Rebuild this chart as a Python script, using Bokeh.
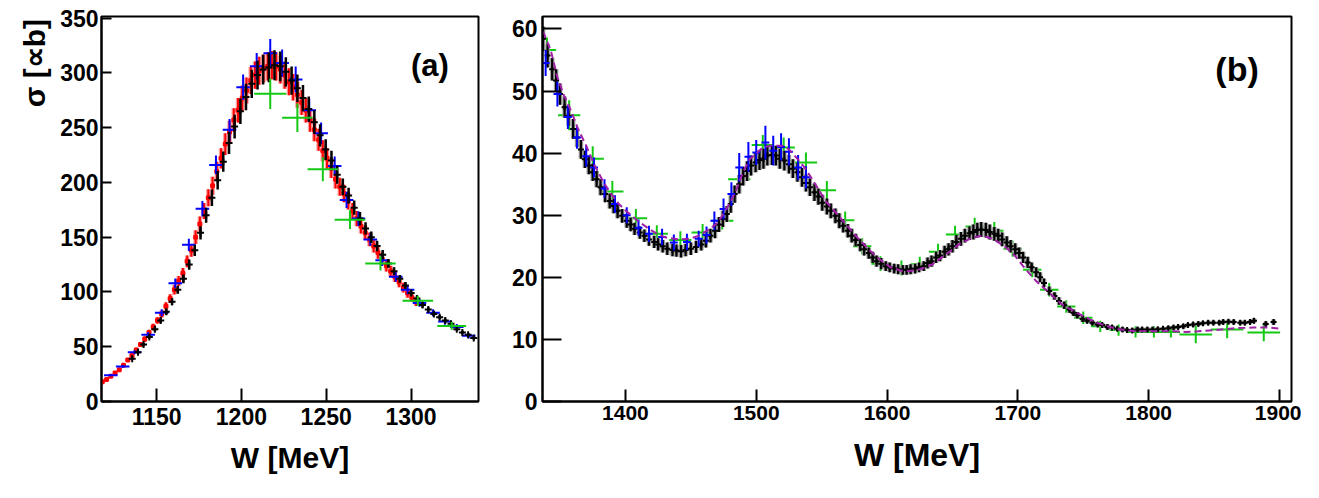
import numpy as np
from bokeh.plotting import figure
from bokeh.layouts import row
from bokeh.models import FixedTicker, Label, Range1d
from bokeh.embed import file_html
from bokeh.resources import INLINE

# ---------------- panel (a) data ----------------
a_xticks = [1150, 1200, 1250, 1300]
a_yticks = [0, 50, 100, 150, 200, 250, 300, 350]
a_ytitle = "\u03c3 [\u221db]"

a_red_w = [1118, 1120.5, 1123, 1125.5, 1128, 1130.5, 1133, 1135.5, 1138, 1140.5,
           1143, 1145.5, 1148, 1150.5, 1153, 1155.5, 1158, 1160.5, 1163, 1165.5,
           1168, 1170.5, 1173, 1175.5, 1178, 1180.5, 1183, 1185.5, 1188, 1190.5,
           1193, 1195.5, 1198, 1200.5, 1203, 1205.5, 1208, 1210.5, 1213, 1215.5,
           1218, 1220.5, 1223, 1225.5, 1228, 1230.5, 1233, 1235.5, 1238, 1240.5,
           1243, 1245.5, 1248, 1250.5, 1253, 1255.5, 1258, 1260.5, 1263, 1265.5,
           1268, 1270.5, 1273, 1275.5, 1278, 1280.5, 1283, 1285.5, 1288, 1290.5,
           1293, 1295.5, 1298, 1300.5, 1303]
a_red_v = [18, 20, 23, 26, 29, 33, 38, 42, 47, 52,
           57, 63, 68, 74, 80, 87, 94, 102, 110, 117,
           128, 138, 150, 162, 174, 186, 197, 210, 222, 235,
           246, 257, 266, 277, 284, 293, 298, 302, 304, 306,
           307, 306, 303, 298, 292, 287, 280, 273, 266, 257,
           248, 239, 229, 222, 213, 203, 196, 190, 183, 174,
           167, 160, 154, 148, 142, 136, 130, 124, 119, 114,
           109, 104, 99, 95, 91]
a_red_e = [0.8, 0.8, 1.0, 1.1, 1.2, 1.4, 1.6, 1.8, 2.0, 2.2,
           2.4, 2.6, 2.9, 3.1, 3.4, 3.7, 4.0, 4.3, 4.6, 4.9,
           5.4, 5.8, 6.3, 6.8, 7.3, 7.8, 8.3, 8.8, 9.3, 9.9,
           10.3, 10.8, 11.2, 11.6, 11.9, 12.3, 12.5, 12.7, 12.8, 12.9,
           12.9, 12.9, 12.7, 12.5, 12.3, 12.1, 11.8, 11.5, 11.2, 10.8,
           10.4, 10.0, 9.6, 9.3, 8.9, 8.5, 8.2, 8.0, 7.7, 7.3,
           7.0, 6.7, 6.5, 6.2, 6.0, 5.7, 5.5, 5.2, 5.0, 4.8,
           4.6, 4.4, 4.2, 4.0, 3.8]

a_blk_w = [1135.6, 1139.0, 1142.3, 1145.7, 1149.0, 1152.4, 1155.7, 1159.1, 1162.5, 1165.8,
           1169.2, 1172.5, 1175.9, 1179.2, 1182.6, 1186.0, 1189.3, 1192.7, 1196.0, 1199.4,
           1202.7, 1206.1, 1209.5, 1212.8, 1216.2, 1219.5, 1222.9, 1226.2, 1229.6, 1233.0,
           1236.3, 1239.7, 1243.0, 1246.4, 1249.7, 1253.1, 1256.5, 1259.8, 1263.2, 1266.5,
           1269.9, 1273.2, 1276.6, 1280.0, 1283.3, 1286.7, 1290.0, 1293.4, 1296.7, 1300.1,
           1303.5, 1306.8, 1310.2, 1313.5, 1316.9, 1320.2, 1323.6, 1327.0, 1330.3, 1333.7,
           1337.0]
a_blk_v = [39, 45, 52, 59, 66, 74, 82, 91, 102, 112,
           125, 138, 154, 170, 186, 202, 219, 236, 251, 265,
           278, 290, 298, 303, 305, 307, 306, 301, 293, 286,
           277, 267, 255, 243, 230, 220, 207, 196, 188, 177,
           167, 158, 150, 142, 134, 126, 119, 112, 106, 99,
           94, 88, 84, 80, 77, 74, 71, 66, 63, 61,
           58]
a_blk_e = [1.2, 1.4, 1.6, 1.8, 2.1, 2.4, 2.7, 3.1, 3.6, 4.0,
           4.6, 5.2, 6.0, 6.8, 7.6, 8.4, 9.3, 10.1, 10.9, 11.6,
           12.2, 12.8, 13.2, 13.5, 13.6, 13.7, 13.6, 13.3, 12.9, 12.5,
           12.0, 11.5, 10.8, 10.2, 9.5, 8.9, 8.2, 7.6, 7.2, 6.6,
           6.1, 5.6, 5.2, 4.8, 4.4, 4.0, 3.6, 3.3, 3.0, 2.7,
           2.5, 2.3, 2.1, 2.0, 1.9, 1.8, 1.7, 1.6, 1.5, 1.4,
           1.3]

a_blu_w = [1123, 1130, 1137, 1145, 1153, 1161, 1169, 1177, 1185, 1193,
           1201, 1209, 1217, 1224, 1232, 1240, 1247, 1255, 1262, 1269,
           1276, 1283, 1291, 1298, 1305, 1313, 1320, 1327, 1334]
a_blu_v = [24, 32, 45, 61, 81, 108, 143, 176, 216, 248,
           287, 306, 318, 309, 294, 266, 245, 215, 184, 167,
           148, 129, 114, 102, 90, 81, 73, 68, 60]
a_blu_e = [1.0, 1.3, 1.8, 2.4, 3.2, 4.3, 5.7, 7.0, 8.6, 9.9,
           11.5, 12.2, 13.0, 12.4, 11.8, 10.6, 9.8, 8.6, 7.4, 6.7,
           5.9, 5.2, 4.6, 4.1, 3.6, 3.2, 2.9, 2.7, 2.4]
a_blu_hw = 4.0

a_grn_w = [1217, 1233, 1248, 1264, 1282, 1304, 1324]
a_grn_v = [281, 259, 212, 166, 126, 92, 69]
a_grn_e = [14, 13, 11, 8.5, 6.5, 4.5, 3.5]
a_grn_hw = [9.5, 9, 9, 9, 9, 9, 8.5]

# ---------------- panel (b) data ----------------
b_xticks = [1400, 1500, 1600, 1700, 1800, 1900]
b_yticks = [0, 10, 20, 30, 40, 50, 60]

b_blk_w = [1337, 1340.5, 1344, 1347, 1350, 1353.5, 1356.5, 1360, 1363, 1366,
           1369, 1372, 1375, 1378, 1381, 1384.5, 1388, 1391, 1394, 1397.5,
           1401, 1404, 1407, 1411, 1414.5, 1418, 1422, 1425, 1428.5, 1432,
           1436, 1439, 1442.5, 1446, 1450, 1454, 1458, 1461.5, 1465, 1468.5,
           1471.5, 1474.5, 1477.5, 1480.5, 1483.5, 1487, 1490, 1493, 1496, 1499.5,
           1502.5, 1505.5, 1508.5, 1512, 1515, 1518, 1521.5, 1525, 1528, 1531.5,
           1535, 1538, 1541, 1544.5, 1547.5, 1550.5, 1554, 1557, 1560.5, 1563.5,
           1566.5, 1570, 1573, 1576, 1579.5, 1582.5, 1586, 1589, 1592, 1595.5,
           1599, 1602, 1605.5, 1608.5, 1612, 1615, 1618, 1621.5, 1624.5, 1628,
           1631, 1634, 1637.5, 1640.5, 1644, 1647, 1650, 1653, 1656.5, 1659.5,
           1663, 1666, 1669, 1672, 1675.5, 1678.5, 1682, 1685, 1688, 1691.5,
           1694.5, 1698, 1701, 1704, 1707.5, 1710.5, 1714, 1717, 1720, 1724,
           1728, 1731.5, 1735.5, 1739.5, 1742.5, 1745.5, 1749.5, 1753, 1757, 1761,
           1764.5, 1768.5, 1772, 1776, 1780, 1783.5, 1787.5, 1791.5, 1795, 1799,
           1803, 1807, 1811, 1815, 1819, 1822.5, 1826.5, 1830, 1834, 1838,
           1841.5, 1845.5, 1849.5, 1854, 1857, 1861, 1865, 1870, 1873.5, 1877.5,
           1880.5, 1889.5, 1895.5]
b_blk_v = [58.4, 55.7, 53.5, 51.7, 49.5, 47.4, 46.0, 43.9, 42.5, 40.6,
           39.0, 38.0, 36.9, 35.8, 34.5, 33.4, 32.3, 31.5, 30.7, 29.9,
           29.1, 28.5, 27.8, 27.2, 26.7, 26.1, 25.7, 25.3, 25.0, 24.6,
           24.4, 24.3, 24.2, 24.4, 24.6, 24.9, 25.3, 25.9, 26.7, 27.5,
           28.5, 29.4, 30.2, 31.8, 33.4, 35.0, 36.3, 37.1, 38.0, 38.5,
           38.9, 39.1, 39.6, 39.7, 39.6, 39.1, 38.8, 38.2, 37.5, 36.9,
           36.1, 35.2, 34.5, 33.7, 33.0, 32.0, 31.4, 30.7, 29.9, 29.1,
           28.3, 27.5, 26.7, 26.0, 25.2, 24.5, 23.9, 23.2, 22.6, 22.2,
           21.8, 21.6, 21.4, 21.3, 21.2, 21.2, 21.3, 21.4, 21.6, 21.8,
           22.3, 22.6, 23.2, 23.5, 24.1, 24.5, 25.0, 25.7, 26.2, 26.7,
           27.1, 27.3, 27.6, 27.7, 27.6, 27.3, 27.0, 26.7, 26.1, 25.6,
           25.0, 24.5, 23.9, 23.2, 22.4, 21.6, 20.8, 20.0, 19.1, 17.8,
           17.0, 16.2, 15.5, 14.8, 14.3, 13.9, 13.3, 13.0, 12.7, 12.4,
           12.3, 12.0, 11.9, 11.7, 11.6, 11.5, 11.45, 11.6, 11.6, 11.6,
           11.6, 11.65, 11.7, 11.8, 11.9, 12.0, 12.1, 12.3, 12.4, 12.5,
           12.6, 12.7, 12.7, 12.7, 12.8, 12.85, 12.8, 12.7, 12.7, 12.8,
           13.0, 12.5, 12.8]
b_blk_e = [2.0, 1.9, 1.8, 1.8, 1.7, 1.7, 1.6, 1.6, 1.5, 1.5,
           1.4, 1.4, 1.4, 1.3, 1.3, 1.3, 1.2, 1.2, 1.2, 1.1,
           1.1, 1.1, 1.0, 1.0, 1.0, 1.0, 1.0, 1.0, 1.0, 1.0,
           1.0, 1.0, 1.0, 1.0, 1.0, 1.0, 1.0, 1.1, 1.1, 1.2,
           1.2, 1.3, 1.3, 1.4, 1.4, 1.5, 1.5, 1.6, 1.6, 1.6,
           1.6, 1.6, 1.6, 1.6, 1.6, 1.6, 1.6, 1.5, 1.5, 1.5,
           1.5, 1.4, 1.4, 1.4, 1.3, 1.3, 1.3, 1.2, 1.2, 1.2,
           1.1, 1.1, 1.1, 1.0, 1.0, 1.0, 0.9, 0.9, 0.9, 0.9,
           0.8, 0.8, 0.8, 0.8, 0.8, 0.8, 0.8, 0.8, 0.8, 0.8,
           0.9, 0.9, 0.9, 0.9, 1.0, 1.0, 1.0, 1.1, 1.1, 1.1,
           1.1, 1.2, 1.2, 1.2, 1.2, 1.2, 1.1, 1.1, 1.1, 1.0,
           1.0, 1.0, 0.9, 0.9, 0.9, 0.8, 0.8, 0.8, 0.7, 0.7,
           0.6, 0.6, 0.6, 0.5, 0.5, 0.5, 0.5, 0.4, 0.4, 0.4,
           0.4, 0.4, 0.4, 0.35, 0.35, 0.35, 0.35, 0.35, 0.35, 0.35,
           0.35, 0.35, 0.35, 0.35, 0.35, 0.35, 0.35, 0.35, 0.35, 0.35,
           0.35, 0.35, 0.35, 0.35, 0.35, 0.35, 0.35, 0.35, 0.35, 0.35,
           0.4, 0.4, 0.4]

b_blu_w = [1339, 1348, 1356, 1363, 1370, 1376, 1384, 1392, 1401, 1410,
           1418, 1428, 1437, 1447, 1456, 1462, 1468, 1475, 1481, 1487,
           1494, 1500, 1507, 1513, 1519, 1525, 1532, 1538]
b_blu_v = [54.5, 49.5, 45.8, 42.5, 39.5, 37.7, 34.3, 31.8, 30.0, 28.0,
           27.0, 26.5, 25.6, 25.7, 26.2, 26.8, 29.1, 31.0, 33.4, 37.7,
           39.4, 40.1, 41.7, 40.4, 41.0, 40.2, 37.7, 36.1]
b_blu_e = [2.1, 2.0, 1.9, 1.8, 1.7, 1.6, 1.5, 1.4, 1.3, 1.3,
           1.3, 1.3, 1.3, 1.3, 1.3, 1.4, 1.5, 1.7, 1.9, 2.3,
           2.4, 2.0, 2.7, 2.4, 2.2, 2.2, 2.0, 1.8]
b_blu_hw = 3.0

b_grn_w = [1340, 1357, 1375, 1390, 1408, 1424, 1442, 1459, 1474, 1487,
           1505, 1521, 1538, 1554, 1568, 1581, 1595, 1611, 1625, 1639,
           1652, 1667, 1682, 1696, 1711, 1724, 1737, 1750, 1763, 1777,
           1790, 1804, 1817, 1836, 1860, 1888]
b_grn_v = [56.6, 46.1, 39.1, 33.8, 29.5, 27.0, 26.0, 27.2, 29.1, 35.8,
           41.3, 40.9, 38.5, 34.0, 29.2, 25.0, 22.2, 21.5, 22.1, 24.1,
           26.9, 28.2, 27.5, 24.6, 21.2, 18.0, 15.3, 13.5, 12.1, 11.5,
           11.2, 11.2, 11.2, 10.8, 11.6, 11.1]
b_grn_e = [2.0, 2.4, 2.0, 1.7, 1.5, 1.4, 1.4, 1.4, 1.4, 1.6,
           1.6, 1.6, 1.6, 1.5, 1.4, 1.3, 1.2, 1.2, 1.2, 1.3,
           1.4, 1.4, 1.4, 1.3, 1.2, 1.1, 1.0, 1.0, 0.9, 0.9,
           0.9, 0.9, 0.9, 1.4, 1.4, 1.4]
b_grn_hw = [7, 8.5, 8.5, 8.5, 8.5, 8.5, 8.5, 8.5, 8.5, 8.5,
            8.5, 8.5, 8.5, 7, 7, 7, 7, 7, 7, 7,
            7, 7, 7, 7, 7, 7, 7, 7, 7, 7,
            7, 7, 7, 12.5, 12.5, 12.5]

b_fit_w = [1337, 1343, 1348, 1353, 1358, 1364, 1370, 1376, 1381, 1387,
           1395, 1401, 1410, 1418, 1425, 1431, 1441, 1449, 1455, 1464,
           1470, 1474, 1480, 1485, 1490, 1495, 1505, 1511, 1520, 1525,
           1531, 1538, 1546, 1553, 1563, 1576, 1585, 1592, 1602, 1610,
           1617, 1625, 1635, 1645, 1655, 1665, 1673, 1681, 1691, 1698,
           1706, 1714, 1724, 1734, 1744, 1760, 1775, 1790, 1805, 1820,
           1828, 1838, 1851, 1866, 1880, 1892, 1901]
b_fit_v = [59.6, 56.5, 52.2, 49.3, 47.0, 43.8, 41.2, 38.2, 36.2, 34.0,
           31.8, 30.6, 29.0, 27.8, 26.9, 26.4, 26.1, 26.2, 26.6, 27.7,
           28.7, 29.9, 32.0, 34.2, 37.0, 39.0, 40.9, 41.2, 41.2, 40.6,
           39.2, 37.4, 34.7, 32.3, 29.9, 26.7, 24.7, 23.3, 21.7, 21.1,
           21.0, 21.3, 22.1, 23.7, 25.3, 26.4, 26.7, 26.2, 24.8, 23.4,
           21.3, 19.4, 17.5, 15.6, 14.4, 12.7, 11.7, 11.3, 11.3, 11.3,
           11.2, 11.3, 11.5, 11.8, 11.9, 11.9, 11.7]

FONT = "Liberation Sans"
RED = "#ff0000"
BLUE = "#0000ff"
GREEN = "#14c814"
PURPLE = "#a020a8"


def make_fig(width, height, xr, yr, bl, br, bt, bb):
    p = figure(width=width, height=height,
               x_range=Range1d(start=xr[0], end=xr[1]),
               y_range=Range1d(start=yr[0], end=yr[1]),
               output_backend="svg", toolbar_location=None,
               min_border_left=bl, min_border_right=br,
               min_border_top=bt, min_border_bottom=bb)
    p.xgrid.visible = False
    p.ygrid.visible = False
    p.outline_line_color = "black"
    p.outline_line_width = 2
    p.background_fill_color = "white"
    p.border_fill_color = "white"
    return p


def style_axis(ax, ticks, size, tick_len, standoff, font=FONT):
    ax.ticker = FixedTicker(ticks=ticks)
    ax.axis_line_color = "black"
    ax.axis_line_width = 2
    ax.major_tick_line_color = "black"
    ax.major_tick_line_width = 2
    ax.major_tick_in = tick_len
    ax.major_tick_out = 0
    ax.minor_tick_line_color = None
    ax.major_label_text_font = font
    ax.major_label_text_font_size = f"{size}px"
    ax.major_label_text_font_style = "bold"
    ax.major_label_text_color = "black"
    ax.major_label_standoff = standoff


def axtitle(ax, text, size, standoff):
    ax.axis_label = text
    ax.axis_label_text_font = FONT
    ax.axis_label_text_font_size = f"{size}px"
    ax.axis_label_text_font_style = "bold"
    ax.axis_label_text_color = "black"
    ax.axis_label_standoff = standoff


def errpoints(p, w, v, e, hw, color, lw, under=None, under_lw=None, marker=None, msize=6):
    w = np.asarray(w, dtype=float)
    v = np.asarray(v, dtype=float)
    e = np.asarray(e, dtype=float)
    if under is not None:
        p.segment(x0=w, y0=v - e, x1=w, y1=v + e, line_color=under, line_width=under_lw)
    p.segment(x0=w, y0=v - e, x1=w, y1=v + e, line_color=color, line_width=lw)
    if hw is not None:
        hw = np.broadcast_to(np.asarray(hw, dtype=float), w.shape)
        p.segment(x0=w - hw, y0=v, x1=w + hw, y1=v, line_color=color, line_width=lw)
    if marker is not None:
        p.scatter(w, v, marker=marker, size=msize, line_color=color, fill_color=color,
                  line_width=2)


# ---------------- panel (a) ----------------
pa = make_fig(506, 482, (1117.5, 1339.8), (0, 351.5), 101, 28, 16, 81)
style_axis(pa.xaxis[0], a_xticks, 23, 13, 6)
style_axis(pa.yaxis[0], a_yticks, 23, 10, 3)
axtitle(pa.xaxis[0], "W [MeV]", 30, 13)
# leading no-break spaces push the centred title towards the top of the axis
axtitle(pa.yaxis[0], "\u00a0" * 35 + a_ytitle, 30, 6)

errpoints(pa, a_red_w, a_red_v, a_red_e, None, RED, 2, under="#ffa0a0", under_lw=4.5,
          marker="square", msize=3)
errpoints(pa, a_blu_w, a_blu_v, a_blu_e, a_blu_hw, BLUE, 2)
errpoints(pa, a_blk_w, a_blk_v, a_blk_e, None, "black", 2.5, marker="cross", msize=7)
errpoints(pa, a_grn_w, a_grn_v, a_grn_e, a_grn_hw, GREEN, 2)

pa.add_layout(Label(x=1300, y=307, text="(a)", text_align="left", text_baseline="middle",
                    text_font=FONT, text_font_size="31px", text_font_style="bold",
                    text_color="black"))

# ---------------- panel (b) ----------------
pb = make_fig(795, 482, (1336.6, 1909.2), (0, 62.0), 36, 10, 16, 81)
style_axis(pb.xaxis[0], b_xticks, 21, 12, 4)
style_axis(pb.yaxis[0], b_yticks, 23, 19, 5)
axtitle(pb.xaxis[0], "W [MeV]", 32, 14)

errpoints(pb, b_grn_w, b_grn_v, b_grn_e, b_grn_hw, GREEN, 2)
errpoints(pb, b_blk_w, b_blk_v, b_blk_e, None, "black", 2.2, under="#a0a0a0", under_lw=4.5,
          marker="cross", msize=6)
errpoints(pb, b_blu_w, b_blu_v, b_blu_e, b_blu_hw, BLUE, 2)
pb.line(b_fit_w, b_fit_v, line_color=PURPLE, line_width=2, line_dash="7 4")

pb.add_layout(Label(x=1851, y=53.6, text="(b)", text_align="left", text_baseline="middle",
                    text_font=FONT, text_font_size="34px", text_font_style="bold",
                    text_color="black"))

layout = row(pa, pb)
open("out.html", "w").write(file_html(layout, INLINE))
